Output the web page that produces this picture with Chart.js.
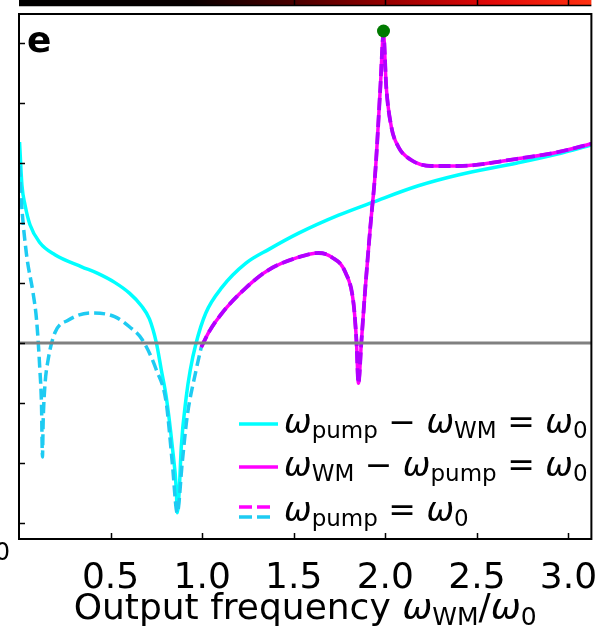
<!DOCTYPE html>
<html>
<head>
<meta charset="utf-8">
<script src="https://cdn.jsdelivr.net/npm/chart.js@4"></script>
<style>
  html, body { margin: 0; padding: 0; background: #fff; }
  canvas { display: block; }
</style>
</head>
<body>
<canvas id="chart" width="616" height="627"></canvas>
<script>
// y values are in decades (log10 of the response), 0 = reference level
const cyanX = [0.003, 0.016, 0.033, 0.06, 0.114, 0.196, 0.342, 0.43, 0.522, 0.603, 0.668, 0.712, 0.75, 0.777, 0.804, 0.837, 0.859, 0.864, 0.875, 0.886, 0.913, 0.935, 0.967, 1.02, 1.109, 1.239, 1.364, 1.527, 1.745, 1.935, 2.18, 2.397, 2.72, 2.94, 3.125];
const cyanY = [3.35, 2.63, 2.3, 1.97, 1.67, 1.47, 1.27, 1.16, 1.01, 0.83, 0.62, 0.4, 0.0, -0.45, -0.9, -1.73, -2.45, -2.83, -2.45, -1.73, -0.9, -0.45, 0.0, 0.5, 0.93, 1.33, 1.56, 1.83, 2.13, 2.35, 2.62, 2.8, 3.0, 3.15, 3.3];

const pumpX = [0.003, 0.01, 0.04, 0.077, 0.096, 0.114, 0.123, 0.128, 0.132, 0.141, 0.159, 0.196, 0.268, 0.395, 0.522, 0.603, 0.674, 0.75, 0.804, 0.837, 0.864, 0.891, 0.918, 0.967, 0.995];
const pumpY = [2.95, 2.5, 1.5, 0.83, 0.38, -0.45, -1.05, -1.9, -1.3, -0.73, -0.28, 0.17, 0.38, 0.5, 0.44, 0.27, 0.05, -0.45, -1.0, -2.0, -2.83, -2.0, -1.23, -0.45, -0.07];

const magX = [0.995, 1.038, 1.109, 1.239, 1.364, 1.527, 1.636, 1.707, 1.783, 1.826, 1.842, 1.853, 1.870, 1.891, 1.918, 1.946, 1.973, 1.99, 2.005, 2.033, 2.071, 2.141, 2.25, 2.397, 2.72, 2.94, 3.125];
const magY = [-0.07, 0.19, 0.5, 0.92, 1.22, 1.43, 1.5, 1.43, 1.17, 0.67, 0.05, -0.67, 0.05, 0.93, 1.93, 2.88, 4.27, 5.15, 4.27, 3.6, 3.27, 3.05, 2.95, 2.95, 3.07, 3.18, 3.32];

const peakX = [1.99];
const peakY = [5.2];

const refLevel = 0;
const xRange = [0, 3.125];
const yRange = [-3.267, 5.483];
const xTicks = [0.5, 1.0, 1.5, 2.0, 2.5, 3.0];
const yTicks = [-3, -2, -1, 0, 1, 2, 3, 4, 5];
const stripLines = [1.5, 2.0, 2.5, 3.0];

const CYAN = '#00ffff';
const CYAN_DASH = '#1ecbf2';
const MAGENTA = '#ff00ff';
const MAGENTA_DASH = '#b000ff';
const FONT = '"DejaVu Sans"';

// legend / title pieces: [text, kind] where kind is n (normal), i (italic), s (subscript)
const legendRows = [
  { parts: [['ω', 'i'], ['pump', 's'], [' − ', 'n'], ['ω', 'i'], ['WM', 's'], [' = ', 'n'], ['ω', 'i'], ['0', 's']] },
  { parts: [['ω', 'i'], ['WM', 's'], [' − ', 'n'], ['ω', 'i'], ['pump', 's'], [' = ', 'n'], ['ω', 'i'], ['0', 's']] },
  { parts: [['ω', 'i'], ['pump', 's'], [' = ', 'n'], ['ω', 'i'], ['0', 's']] }
];
const xTitle = [['Output frequency ', 'n'], ['ω', 'i'], ['WM', 's'], ['/', 'n'], ['ω', 'i'], ['0', 's']];

const zip = (xs, ys) => xs.map((x, i) => ({ x: x, y: ys[i] }));

function partFont(kind, size) {
  if (kind === 'i') return 'italic ' + size + 'px ' + FONT;
  if (kind === 's') return Math.round(size * 0.7) + 'px ' + FONT;
  return size + 'px ' + FONT;
}

function mathWidth(ctx, parts, size) {
  let w = 0;
  parts.forEach(([t, k]) => { ctx.font = partFont(k, size); w += ctx.measureText(t).width; });
  return w;
}

function drawMath(ctx, parts, x, y, size, align) {
  let cx = align === 'center' ? x - mathWidth(ctx, parts, size) / 2 : x;
  ctx.textBaseline = 'alphabetic';
  ctx.textAlign = 'left';
  parts.forEach(([t, k]) => {
    ctx.font = partFont(k, size);
    const dy = k === 's' ? size * 0.16 : 0;
    ctx.fillText(t, cx, y + dy);
    cx += ctx.measureText(t).width;
  });
}

// strip of the neighbouring panel's colour map along the top edge
const topStrip = {
  id: 'topStrip',
  beforeDraw(chart) {
    const { ctx, chartArea: a, scales: { x } } = chart;
    ctx.save();
    const g = ctx.createLinearGradient(a.left, 0, a.right, 0);
    g.addColorStop(0, '#000000');
    g.addColorStop(0.3, '#080000');
    g.addColorStop(0.48, '#4a0000');
    g.addColorStop(0.65, '#9a0000');
    g.addColorStop(0.82, '#e00808');
    g.addColorStop(1, '#ff3010');
    ctx.fillStyle = g;
    ctx.fillRect(a.left, 0, a.right - a.left, 5);
    ctx.strokeStyle = '#000';
    ctx.lineWidth = 1.5;
    ctx.beginPath();
    ctx.moveTo(a.left, 5.5);
    ctx.lineTo(a.right, 5.5);
    stripLines.forEach(v => {
      const px = Math.round(x.getPixelForValue(v)) + 0.5;
      ctx.moveTo(px, 0);
      ctx.lineTo(px, 5.5);
    });
    ctx.stroke();
    ctx.restore();
  }
};

const frameAndText = {
  id: 'frameAndText',
  afterDatasetsDraw(chart) {
    const { ctx, chartArea: a, scales: { x, y } } = chart;
    ctx.save();

    // inward ticks
    ctx.strokeStyle = '#000';
    ctx.lineWidth = 1.5;
    ctx.beginPath();
    xTicks.forEach(v => {
      const px = Math.round(x.getPixelForValue(v)) + 0.5;
      ctx.moveTo(px, a.bottom);
      ctx.lineTo(px, a.bottom - 6);
    });
    yTicks.forEach(v => {
      const py = Math.round(y.getPixelForValue(v)) + 0.5;
      ctx.moveTo(a.left, py);
      ctx.lineTo(a.left + 6, py);
    });
    ctx.stroke();

    // box
    ctx.lineWidth = 2;
    ctx.strokeRect(a.left, a.top, a.right - a.left, a.bottom - a.top);

    // panel letter
    ctx.fillStyle = '#000';
    ctx.font = 'bold 36px ' + FONT;
    ctx.textAlign = 'left';
    ctx.textBaseline = 'alphabetic';
    ctx.fillText('e', 27, 52);

    // clipped tick label of the left axis
    ctx.font = '24px ' + FONT;
    ctx.textAlign = 'right';
    ctx.fillText('0', 10, 560);

    // legend
    const ds = chart.data.datasets;
    const rowY = [424, 467, 512];
    const x0 = 239, x1 = 278;
    ctx.setLineDash([]);
    ctx.lineWidth = 3.5;
    ctx.strokeStyle = ds[5].borderColor;
    ctx.beginPath(); ctx.moveTo(x0, rowY[0]); ctx.lineTo(x1, rowY[0]); ctx.stroke();
    ctx.strokeStyle = ds[3].borderColor;
    ctx.beginPath(); ctx.moveTo(x0, rowY[1]); ctx.lineTo(x1, rowY[1]); ctx.stroke();
    ctx.setLineDash([13, 5]);
    ctx.strokeStyle = MAGENTA;
    ctx.beginPath(); ctx.moveTo(x0, rowY[2] - 5); ctx.lineTo(x1 - 3, rowY[2] - 5); ctx.stroke();
    ctx.strokeStyle = ds[4].borderColor;
    ctx.beginPath(); ctx.moveTo(x0, rowY[2] + 5); ctx.lineTo(x1 - 3, rowY[2] + 5); ctx.stroke();
    ctx.setLineDash([]);

    ctx.fillStyle = '#000';
    legendRows.forEach((row, i) => drawMath(ctx, row.parts, 284, rowY[i] + 9, 33, 'left'));

    // x axis title
    drawMath(ctx, xTitle, (a.left + a.right) / 2, 619, 36, 'center');

    ctx.restore();
  }
};

const line = (data, color, width, dash) => ({
  type: 'line',
  data: data,
  borderColor: color,
  backgroundColor: color,
  borderWidth: width,
  borderDash: dash || [],
  borderJoinStyle: 'round',
  pointRadius: 0,
  fill: false,
  cubicInterpolationMode: 'monotone'
});

new Chart(document.getElementById('chart'), {
  type: 'line',
  data: {
    datasets: [
      {
        data: zip(peakX, peakY),
        showLine: false,
        pointRadius: 6.5,
        pointBackgroundColor: '#007a00',
        pointBorderWidth: 0
      },
      line([{ x: xRange[0], y: refLevel }, { x: xRange[1], y: refLevel }], '#808080', 3),
      line(zip(magX, magY), MAGENTA_DASH, 3.8, [12, 5]),
      line(zip(magX, magY), MAGENTA, 3.5),
      line(zip(pumpX, pumpY), CYAN_DASH, 3.5, [11, 5]),
      line(zip(cyanX, cyanY), CYAN, 3.5)
    ]
  },
  options: {
    responsive: false,
    devicePixelRatio: 1,
    animation: false,
    layout: { padding: { top: 14, right: 22, left: 0, bottom: 0 } },
    plugins: { legend: { display: false }, tooltip: { enabled: false } },
    scales: {
      x: {
        type: 'linear',
        min: xRange[0],
        max: xRange[1],
        afterBuildTicks: s => { s.ticks = xTicks.map(v => ({ value: v })); },
        afterFit: s => { s.height = 88; },
        grid: { display: false, drawTicks: false },
        border: { display: false },
        ticks: {
          color: '#000',
          font: { family: 'DejaVu Sans', size: 36 },
          padding: 18,
          maxRotation: 0,
          autoSkip: false,
          callback: v => v.toFixed(1)
        }
      },
      y: {
        type: 'linear',
        min: yRange[0],
        max: yRange[1],
        afterFit: s => { s.width = 19; },
        grid: { display: false, drawTicks: false },
        border: { display: false },
        ticks: { display: false }
      }
    }
  },
  plugins: [topStrip, frameAndText]
});
</script>
</body>
</html>
